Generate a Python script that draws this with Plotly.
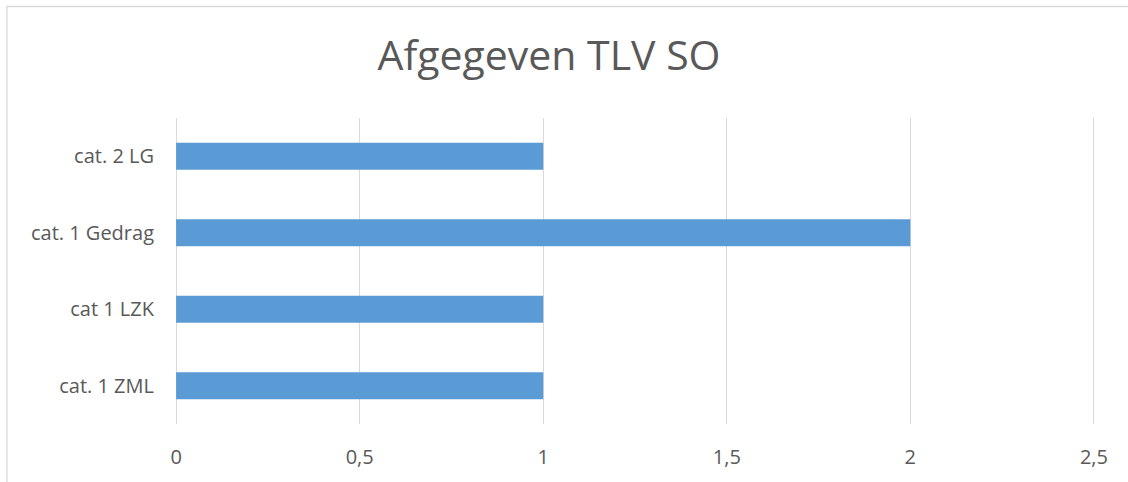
import plotly.graph_objects as go

categories = ["cat. 1 ZML", "cat 1 LZK", "cat. 1 Gedrag", "cat. 2 LG"]
values = [1, 1, 2, 1]
tick_vals = [0, 0.5, 1, 1.5, 2, 2.5]
tick_text = ["0", "0,5", "1", "1,5", "2", "2,5"]
title_text = "Afgegeven TLV SO"

W, H = 1128, 482
L, R, T, B = 175, 33, 118, 58

fig = go.Figure(go.Bar(
    y=categories, x=values, orientation="h",
    marker=dict(color="#5B9BD5", line=dict(width=0)),
    width=0.35,
))

pw = W - L - R
ph = H - T - B
# border of the chart area (top and left visible in the reference)
bx0 = (7 - L) / pw
by1 = (H - B - 6.5) / ph
fig.add_shape(type="rect", xref="paper", yref="paper",
              x0=bx0, x1=(W + 20 - L) / pw, y0=-(40) / ph - 1, y1=by1,
              line=dict(color="#D9D9D9", width=1.3), layer="below")

fig.update_layout(
    width=W, height=H,
    margin=dict(l=L, r=R, t=T, b=B),
    paper_bgcolor="white", plot_bgcolor="white",
    font=dict(family="Open Sans", color="#595959"),
    title=dict(text=title_text, x=549 / W, xanchor="center", xref="container",
               y=1 - 56 / H, yanchor="middle", yref="container",
               font=dict(size=41, color="#595959", family="Open Sans")),
    showlegend=False,
)
fig.update_xaxes(range=[-0.003, 2.503], tickvals=tick_vals, ticktext=tick_text,
                 showgrid=True, gridcolor="#D9D9D9", gridwidth=1.3,
                 zeroline=False, showline=False, ticks="",
                 tickfont=dict(size=20, color="#595959"), ticklabelstandoff=19)
fig.update_yaxes(showgrid=False, zeroline=False, showline=False, ticks="",
                 tickfont=dict(size=20, color="#595959"), ticklabelstandoff=20,
                 categoryorder="array", categoryarray=categories)

fig.write_html("out.html", config={"displayModeBar": False},
               post_script="document.body.style.margin='0';document.body.style.overflow='hidden';")
